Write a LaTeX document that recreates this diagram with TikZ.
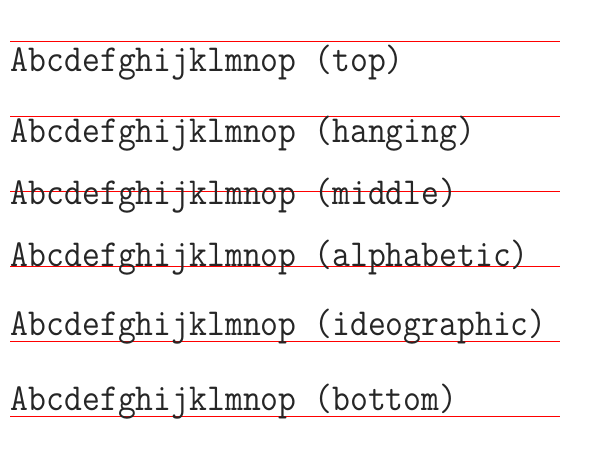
\documentclass[tikz,border=0pt]{standalone}
\usepackage{fontspec}
\begin{document}
\begin{tikzpicture}[x=0.75pt,y=-0.75pt,
  guide/.style={draw=red,line width=0.8pt},
  sample/.style={anchor=base west,inner sep=0pt,outer sep=0pt,text=black!85,
    font=\fontsize{26pt}{30pt}\ttfamily}]
\useasboundingbox (0,0) rectangle (598,450);
% reference lines for each baseline mode
\draw[guide] (10,41.5)  -- (560,41.5);
\draw[guide] (10,116.5) -- (560,116.5);
\draw[guide] (10,191.5) -- (560,191.5);
\draw[guide] (10,266.5) -- (560,266.5);
\draw[guide] (10,341.5) -- (560,341.5);
\draw[guide] (10,416.5) -- (560,416.5);
% sample strings, each set against its line
\node[sample] (top)   at (11,71)  {\scalebox{1}[1.10]{Abcdefghijklmnop (top)}};
\node[sample] (hang)  at (11,142) {\scalebox{1}[1.10]{Abcdefghijklmnop (hanging)}};
\node[sample] (mid)   at (11,204) {\scalebox{1}[1.10]{Abcdefghijklmnop (middle)}};
\node[sample] (alpha) at (11,266) {\scalebox{1}[1.10]{Abcdefghijklmnop (alphabetic)}};
\node[sample] (ideo)  at (11,335) {\scalebox{1}[1.10]{Abcdefghijklmnop (ideographic)}};
\node[sample] (bot)   at (11,410) {\scalebox{1}[1.10]{Abcdefghijklmnop (bottom)}};
\end{tikzpicture}
\end{document}
